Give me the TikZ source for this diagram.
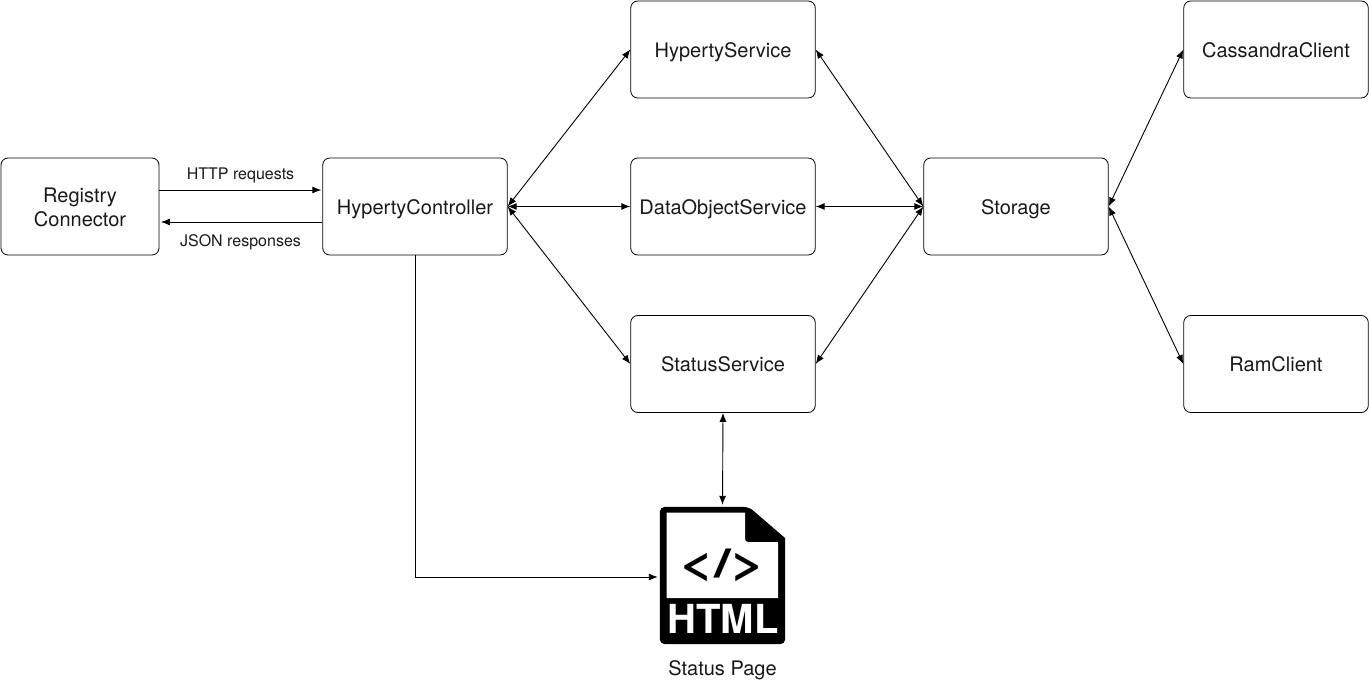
\documentclass[tikz,border=0pt]{standalone}
\usepackage{fontspec}
\setmainfont{TeX Gyre Heros}
\usetikzlibrary{arrows.meta,calc}
\tikzset{
  x=1pt,y=-1pt,
  svcbox/.style={draw=black,line width=0.8pt,rounded corners=7pt,minimum width=184.5pt,minimum height=97pt,inner sep=0pt,font=\fontsize{20}{24}\selectfont,text=black!90},
  oneline/.style={svcbox,text height=15.5pt,text depth=0pt},
  conn/.style={line width=0.9pt,draw=black},
  oneway/.style={conn,-{Latex[length=9pt,width=7pt]},shorten >=2pt},
  twoway/.style={conn,{Latex[length=9pt,width=7pt]}-{Latex[length=9pt,width=7pt]}},
  lbl/.style={font=\fontsize{16}{19}\selectfont,inner sep=0pt,text=black!90,text height=11.5pt,text depth=0pt},
  iconbox/.style={minimum width=125pt,minimum height=137pt,inner sep=0pt},
}
\begin{document}
\begin{tikzpicture}
\useasboundingbox (0,0) rectangle (1369,685);
\node[svcbox,align=center,minimum width=158pt] (reg) at (80,206.5) {\rule{0pt}{15.5pt}Registry\\Connector};
\node[oneline] (hc) at (415,206.5) {HypertyController};
\node[oneline] (hs) at (723,49.5) {HypertyService};
\node[oneline] (ds) at (723,206.5) {DataObjectService};
\node[oneline] (ss) at (723,364) {StatusService};
\node[oneline] (st) at (1016,206.5) {Storage};
\node[oneline] (cc) at (1276,49.5) {CassandraClient};
\node[oneline] (rc) at (1276,364) {RamClient};
\node[iconbox] (icon) at (722.5,575.5) {};
% file icon
\fill[black,rounded corners=5pt] (icon.north west) -- (749,507) [sharp corners] -- (785,538) [rounded corners=5pt] -- (icon.south east) -- (icon.south west) -- cycle;
\fill[white] (666.5,512.5) -- (745,512.5) -- (745,537) [rounded corners=3pt] -- (745,542) -- (750,542) [sharp corners] -- (778,542) -- (778,598) -- (666.5,598) -- cycle;
\node[inner sep=0pt,text=white,font=\fontsize{40}{40}\bfseries\selectfont,xscale=1.0,text height=28pt,text depth=0pt] (htmltxt) at (723,619.5) {HTML};
\node[inner sep=0pt,text=black,font=\fontsize{40}{40}\bfseries\selectfont,xscale=1.5] (code) at (722.5,565) {</>};
\node[lbl,font=\fontsize{20}{24}\selectfont,text height=14.3pt] (cap) at (722.5,668) {Status Page};
% labels
\node[lbl] (http) at (240.5,173.5) {HTTP requests};
\node[lbl] (json) at (240.5,240.5) {JSON responses};
% connectors
\draw[oneway,shorten >=0pt] ($(reg.east)+(0,-16.5)$) -- ($(hc.west)+(-1,-16.5)$);
\draw[oneway,shorten >=0pt] ($(hc.west)+(0,15.5)$) -- ($(reg.east)+(1.5,15.5)$);
\draw[twoway] (hc.east) -- (hs.west);
\draw[twoway] (hc.east) -- (ds.west);
\draw[twoway] (hc.east) -- (ss.west);
\draw[twoway] (hs.east) -- (st.west);
\draw[twoway] (ds.east) -- (st.west);
\draw[twoway] (ss.east) -- (st.west);
\draw[twoway] (st.east) -- (cc.west);
\draw[twoway] (st.east) -- (rc.west);
\draw[twoway,shorten >=2pt] (ss.south) -- (icon.north);
\draw[oneway] (hc.south) |- ($(icon.west)+(0,1.5)$);
\end{tikzpicture}
\end{document}
